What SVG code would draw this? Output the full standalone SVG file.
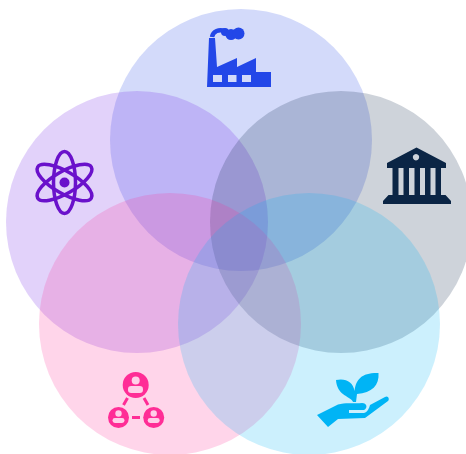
<svg xmlns="http://www.w3.org/2000/svg" width="466" height="454" viewBox="0 0 466 454">
<style>
.c{fill-opacity:.2}
.blue{fill:#2347e8}.purple{fill:#6a11cb}.navy{fill:#0b2545}.pink{fill:#ff2d96}.cyan{fill:#00b4f5}
.orbit{fill:none;stroke:#6a11cb;stroke-width:3.500}
</style>
<rect width="466" height="454" fill="#fff"/>
<g id="circle-top"><circle class="c blue" cx="241" cy="140" r="131"/></g>
<g id="circle-left"><circle class="c" fill="#6f1ee8" cx="137" cy="222" r="131"/></g>
<g id="circle-right"><circle class="c navy" cx="341" cy="222" r="131"/></g>
<g id="circle-bottom-left"><circle class="c pink" cx="170" cy="324" r="131"/></g>
<g id="circle-bottom-right"><circle class="c cyan" cx="309" cy="324" r="131"/></g>
<g id="icon-factory">
<path class="blue" fill-rule="evenodd" d="M209 38H215L217 67L237 58V67L256 58V72H271V87H207ZM213 75V82H222V75ZM228 75V82H236.500V75ZM242 75V82H251V75Z"/>
<path fill="none" stroke="#2347e8" stroke-width="4.500" d="M212 37C213 31 219 29 225 31"/>
<circle class="blue" cx="225" cy="32" r="4"/><circle class="blue" cx="231" cy="34.500" r="5.500"/><circle class="blue" cx="238.500" cy="33.500" r="6"/>
</g>
<g id="icon-atom">
<ellipse class="orbit" cx="64.500" cy="182.500" rx="11" ry="31"/>
<ellipse class="orbit" cx="64.500" cy="182.500" rx="11" ry="31" transform="rotate(60 64.500 182.500)"/>
<ellipse class="orbit" cx="64.500" cy="182.500" rx="11" ry="31" transform="rotate(-60 64.500 182.500)"/>
<circle class="purple" cx="64.500" cy="182.500" r="5"/>
</g>
<g id="icon-bank">
<path class="navy" fill-rule="evenodd" d="M416.500 147.500L446 163V168H387V163ZM416 154a3.200 3.200 0 1 0 .01 0Z"/>
<path class="navy" d="M392.500 168H398.500V195H392.500ZM403.500 168H409V195H403.500ZM414.500 168H420V195H414.500ZM425 168H430.500V195H425ZM435.500 168H441V195H435.500ZM388.500 195H445.500L451 201V204H383V201Z"/>
</g>
<g id="icon-people">
<circle class="pink" cx="135.700" cy="385" r="13"/>
<circle class="pink" cx="118.500" cy="417.500" r="10.500"/>
<circle class="pink" cx="153.700" cy="417.500" r="10.500"/>
<g fill="#ffd0e8">
<circle cx="135.700" cy="380.500" r="4"/><rect x="128" y="386" width="15" height="7" rx="3.200"/>
<circle cx="118.500" cy="413.500" r="3.200"/><rect x="112.500" y="418" width="12" height="5" rx="2.400"/>
<circle cx="153.700" cy="413.500" r="3.200"/><rect x="147.700" y="418" width="12" height="5" rx="2.400"/>
</g>
<path fill="none" stroke="#ff2d96" stroke-width="3" d="M127.500 398L123.500 405M144 398L148 405M132 417.500H140"/>
</g>
<g id="icon-plant">
<path class="cyan" d="M336 380C346 378 353 382 354.500 391C356 379 362 372.500 378.500 373C379.500 385 372 393 357 394L356 402H353L352.500 401C349 396 337 395 336 380Z"/>
<path class="cyan" d="M317 415L338 404.500C346 402 355 404 362 403C367 403 368 408 364 410H349V413L364 413C368 412 369 408 370 405L385 397C388 395 390 399 388 401L365 418L338 419L328 427Z"/>
</g>
</svg>
